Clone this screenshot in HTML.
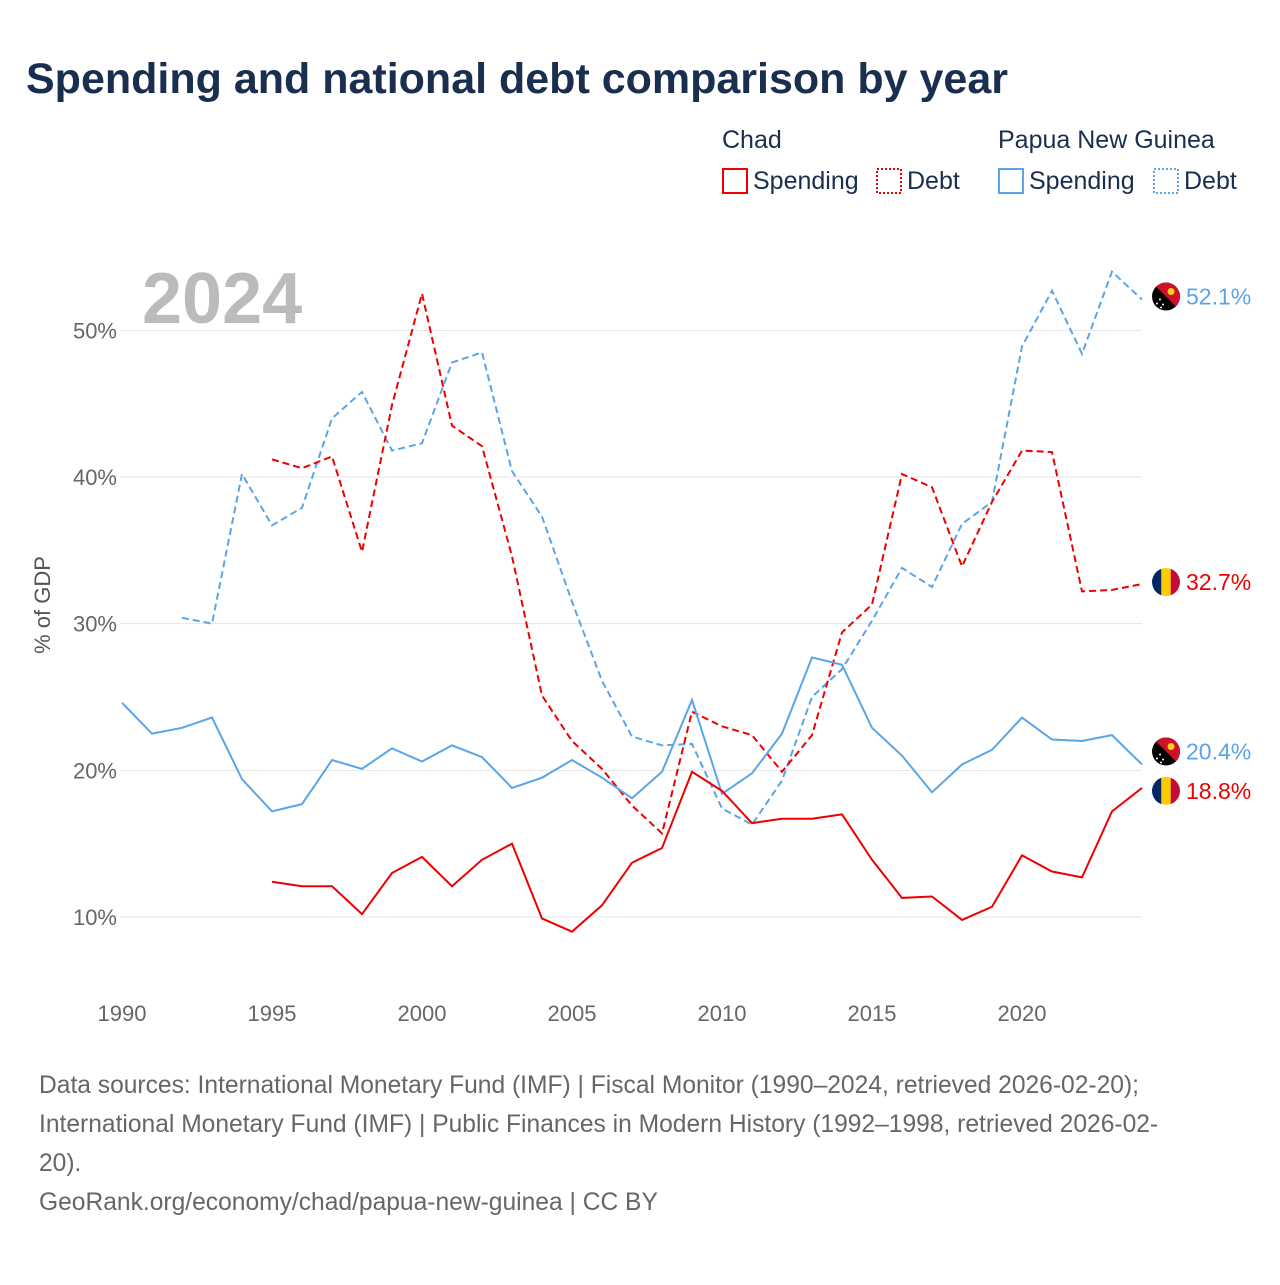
<!DOCTYPE html>
<html><head><meta charset="utf-8"><style>
body{margin:0;background:#fff;font-family:"Liberation Sans",sans-serif;}
svg text{font-family:"Liberation Sans",sans-serif;}
</style></head><body>
<svg id="chart" width="1280" height="1280" xmlns="http://www.w3.org/2000/svg">
<defs id="defs"></defs>
<text x="26" y="93" font-size="43" font-weight="bold" fill="#1a2e4f">Spending and national debt comparison by year</text>
<g font-size="25" fill="#1a2e4f">
<text x="722" y="148">Chad</text>
<text x="998" y="148">Papua New Guinea</text>
<rect x="723" y="169" width="24" height="24" fill="none" stroke="#e00" stroke-width="2"/><text x="753" y="189">Spending</text>
<rect x="877" y="169" width="24" height="24" fill="none" stroke="#e00" stroke-width="2" stroke-dasharray="2,2"/><text x="907" y="189">Debt</text>
<rect x="999" y="169" width="24" height="24" fill="none" stroke="#5aa5e8" stroke-width="2"/><text x="1029" y="189">Spending</text>
<rect x="1154" y="169" width="24" height="24" fill="none" stroke="#5aa5e8" stroke-width="2" stroke-dasharray="2,2"/><text x="1184" y="189">Debt</text>
</g>
<text x="142" y="323" font-size="72" font-weight="bold" fill="#bbb">2024</text>
<text transform="translate(50,605) rotate(-90)" text-anchor="middle" font-size="22" fill="#555">% of GDP</text>
<g id="grid"></g><g id="series"></g><g id="labels"></g>
<g font-size="24.6" fill="#666">
<text x="39" y="1093">Data sources: International Monetary Fund (IMF) | Fiscal Monitor (1990–2024, retrieved 2026-02-20);</text>
<text x="39" y="1132">International Monetary Fund (IMF) | Public Finances in Modern History (1992–1998, retrieved 2026-02-</text>
<text x="39" y="1171">20).</text>
<text x="39" y="1210">GeoRank.org/economy/chad/papua-new-guinea | CC BY</text>
</g>
</svg>
<script>
const yTicks=[10,20,30,40,50];
const xTicks=[1990,1995,2000,2005,2010,2015,2020];
const pngDebtYears=[1992,1993,1994,1995,1996,1997,1998,1999,2000,2001,2002,2003,2004,2005,2006,2007,2008,2009,2010,2011,2012,2013,2014,2015,2016,2017,2018,2019,2020,2021,2022,2023,2024];
const pngDebt=[30.4,30.0,40.2,36.7,37.9,44.0,45.8,41.8,42.3,47.8,48.5,40.4,37.3,31.5,26.1,22.3,21.7,21.8,17.4,16.3,19.3,25.0,26.9,30.2,33.8,32.5,36.8,38.3,48.9,52.7,48.4,54.0,52.1];
const chadDebtYears=[1995,1996,1997,1998,1999,2000,2001,2002,2003,2004,2005,2006,2007,2008,2009,2010,2011,2012,2013,2014,2015,2016,2017,2018,2019,2020,2021,2022,2023,2024];
const chadDebt=[41.2,40.6,41.4,34.9,44.9,52.5,43.5,42.1,34.6,25.1,22.0,20.1,17.6,15.7,24.0,23.0,22.4,19.9,22.4,29.4,31.3,40.2,39.3,33.9,38.3,41.8,41.7,32.2,32.3,32.7];
const pngSpendYears=[1990,1991,1992,1993,1994,1995,1996,1997,1998,1999,2000,2001,2002,2003,2004,2005,2006,2007,2008,2009,2010,2011,2012,2013,2014,2015,2016,2017,2018,2019,2020,2021,2022,2023,2024];
const pngSpend=[24.6,22.5,22.9,23.6,19.4,17.2,17.7,20.7,20.1,21.5,20.6,21.7,20.9,18.8,19.5,20.7,19.5,18.1,19.9,24.8,18.4,19.8,22.5,27.7,27.2,22.9,21.0,18.5,20.4,21.4,23.6,22.1,22.0,22.4,20.4];
const chadSpendYears=[1995,1996,1997,1998,1999,2000,2001,2002,2003,2004,2005,2006,2007,2008,2009,2010,2011,2012,2013,2014,2015,2016,2017,2018,2019,2020,2021,2022,2023,2024];
const chadSpend=[12.4,12.1,12.1,10.2,13.0,14.1,12.1,13.9,15.0,9.9,9.0,10.8,13.7,14.7,19.9,18.6,16.4,16.7,16.7,17.0,13.9,11.3,11.4,9.8,10.7,14.2,13.1,12.7,17.2,18.8];

const NS="http://www.w3.org/2000/svg";
const x=yr=>122+(yr-1990)*30;
const y=v=>917-(v-10)*14.667;
function mk(tag,attrs,parent){const e=document.createElementNS(NS,tag);for(const k in attrs)e.setAttribute(k,attrs[k]);parent.appendChild(e);return e;}
const grid=document.getElementById('grid'),series=document.getElementById('series'),labels=document.getElementById('labels'),defs=document.getElementById('defs');
yTicks.forEach(t=>{
  const l=mk('line',{x1:120,x2:1142,y1:y(t),y2:y(t),stroke:'#e6e6e6','stroke-width':1},grid);
  
  
  const tx=mk('text',{x:117,y:y(t)+8,'text-anchor':'end','font-size':22,fill:'#666'},grid);
  tx.textContent=t+'%';
  
  
});
xTicks.forEach(t=>{
  const tx=mk('text',{x:x(t),y:1021,'text-anchor':'middle','font-size':22,fill:'#666'},grid);
  tx.textContent=t;
  
  
});
function line(years,vals,color,dash,name){
  const d=years.map((yr,i)=>(i?'L':'M')+x(yr)+','+y(vals[i])).join(' ');
  const p=mk('path',{d:d,fill:'none',stroke:color,'stroke-width':2,'stroke-dasharray':dash||'none'},series);
  
  
}
line(pngDebtYears,pngDebt,'#5aa5e8','7,4','png-debt-line');
line(chadDebtYears,chadDebt,'#e00','7,4','chad-debt-line');
line(pngSpendYears,pngSpend,'#5aa5e8','','png-spending-line');
line(chadSpendYears,chadSpend,'#e00','','chad-spending-line');
function endLabel(v,color,flag,name,dy){
  const cy=y(v)+(dy||0),cx=1166;
  const cp=mk('clipPath',{id:name+'c'},defs);
  mk('circle',{cx:cx,cy:cy,r:14},cp);
  const g=mk('g',{},labels);
  
  
  const f=mk('g',{'clip-path':'url(#'+name+'c)'},g);
  if(flag==='td'){
    [['#002664',-14],['#fecb00',-4.7],['#c60c30',4.7]].forEach(s=>mk('rect',{x:cx+s[1],y:cy-14,width:9.4,height:28,fill:s[0]},f));
  } else {
    mk('rect',{x:cx-14,y:cy-14,width:28,height:28,fill:'#000'},f);
    mk('path',{d:`M${cx-14},${cy-14} L${cx+14},${cy-14} L${cx+14},${cy+14} Z`,fill:'#ce1126'},f);
    mk('circle',{cx:cx+5,cy:cy-5,r:3.5,fill:'#fcd116'},f);
    [[-6,3],[-3,8],[-9,7],[-5,11]].forEach(s=>mk('circle',{cx:cx+s[0],cy:cy+s[1],r:1,fill:'#fff'},f));
  }
  const t=mk('text',{x:1186,y:cy+8,'font-size':23,fill:color},g);
  t.textContent=v.toFixed(1)+'%';
}
endLabel(pngDebt[pngDebt.length-1],'#5aa5e8','pg','end-label-png-debt',-3);
endLabel(chadDebt[chadDebt.length-1],'#e00','td','end-label-chad-debt',-2);
endLabel(pngSpend[pngSpend.length-1],'#5aa5e8','pg','end-label-png-spending',-13);
endLabel(chadSpend[chadSpend.length-1],'#e00','td','end-label-chad-spending',3);
</script>
</body></html>
